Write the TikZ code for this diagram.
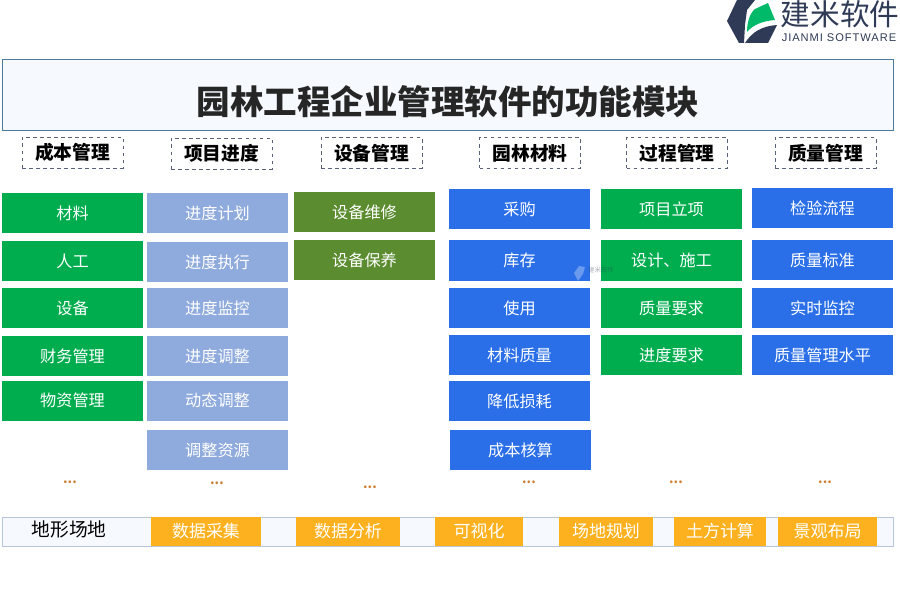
\documentclass[tikz,border=0pt]{standalone}
\usepackage{fontspec}
\setmainfont{Noto Sans CJK SC}
\newfontfamily\latinfont[LetterSpace=8.4]{Liberation Sans}
\definecolor{cgreen}{HTML}{00AD4E}
\definecolor{cblue}{HTML}{8FAADC}
\definecolor{colive}{HTML}{5B8C2F}
\definecolor{croyal}{HTML}{2A6FE8}
\definecolor{corange}{HTML}{FDB11E}
\definecolor{cdark}{HTML}{2F3B56}
\definecolor{cpale}{HTML}{F6FAFF}
\definecolor{cframe}{HTML}{4F7A9C}
\definecolor{cbar}{HTML}{B8C4D8}
\newcommand{\pxfont}[1]{\fontsize{#1}{#1}\selectfont}
\tikzset{
  x=0.03cm,y=-0.03cm,
  cell/.style={minimum width=4.23cm,minimum height=1.2cm,inner sep=0pt,text=white,font=\pxfont{13.8}},
  head/.style={draw=cdark!80,dashed,line width=0.5pt,minimum width=3.03cm,minimum height=0.92cm,inner sep=0pt,font=\pxfont{16}\bfseries},
  tag/.style={fill=corange,minimum height=0.87cm,inner sep=0pt,text=white,font=\pxfont{14.5}},
  more/.style={text=brown!80!orange,inner sep=0pt,font=\pxfont{11}\bfseries},
}
\begin{document}
\begin{tikzpicture}
\useasboundingbox (0,0) rectangle (900,600);
% logo
\fill[cdark] (737,0) -- (755,0) -- (747,10) -- (745,25) -- (744,43) -- (739,43) -- (727,21) -- cycle;
\fill[cdark] (745,43) -- (768,43) -- (777,25) .. controls (762,26) and (752,32) .. (745,43);
\fill[cgreen!85!cyan] (747,32) .. controls (747,22) and (750,13) .. (755,9) -- (768,3) -- (775,20) .. controls (762,21) and (753,25) .. (747,32);
\node[text=cdark,inner sep=0pt,font=\pxfont{25.3}] (brand) at (840,14) {建米软件};
\node[text=cdark,inner sep=0pt,font=\latinfont\pxfont{9.5}] (brandsub) at (839,38) {JIANMI SOFTWARE};
% title
\node[draw=cframe,fill=cpale,line width=0.6pt,minimum width=26.73cm,minimum height=2.13cm,inner sep=0pt] (titlebox) at (447.5,94.5) {};
\node[text=black!85,inner sep=0pt,font=\pxfont{28.6}\bfseries] (title) at (448,102) {园林工程企业管理软件的功能模块};
% column heads
\node[head] (cost) at (72.5,152.5) {成本管理};
\node[head] (plan) at (221.5,153.5) {项目进度};
\node[head] (equip) at (371.5,153) {设备管理};
\node[head] (material) at (530,153) {园林材料};
\node[head] (process) at (677,153) {过程管理};
\node[head] (quality) at (825.5,153) {质量管理};
% first column
\foreach \y/\name/\txt in {213/a1/材料,261/a2/人工,308/a3/设备,356/a4/财务管理,400.5/a5/物资管理}
  \node[cell,fill=cgreen] (\name) at (72.5,\y) {\txt};
% second column
\foreach \y/\name/\txt in {213/b1/进度计划,262/b2/进度执行,308/b3/进度监控,356/b4/进度调整,400.5/b5/动态调整,450/b6/调整资源}
  \node[cell,fill=cblue] (\name) at (217.5,\y) {\txt};
% third column
\foreach \y/\name/\txt in {212/c1/设备维修,260/c2/设备保养}
  \node[cell,fill=colive] (\name) at (364.5,\y) {\txt};
% fourth column
\foreach \y/\name/\txt in {209/d1/采购,260.5/d2/库存,308/d3/使用,355/d4/材料质量,401/d5/降低损耗}
  \node[cell,fill=croyal] (\name) at (519.5,\y) {\txt};
\node[cell,fill=croyal] (d6) at (520.5,450) {成本核算};
% fifth column
\foreach \y/\name/\txt in {209/e1/项目立项,260.5/e2/设计、施工,308/e3/质量要求,355/e4/进度要求}
  \node[cell,fill=cgreen] (\name) at (671.5,\y) {\txt};
% sixth column
\foreach \y/\name/\txt in {208/f1/检验流程,260/f2/质量标准,308/f3/实时监控,355/f4/质量管理水平}
  \node[cell,fill=croyal] (\name) at (822.5,\y) {\txt};
% watermark
\node[text=cdark,opacity=0.4,inner sep=0pt,font=\pxfont{5.5}] (mark) at (601,270) {建米软件};
\fill[white,opacity=0.3] (574,273) -- (579,266) -- (585,267) -- (583,274) -- (578,281) -- cycle;
% dots
\foreach \x/\y/\name in {70/482/m1,217/483/m2,370/487/m3,529/482/m4,676/482/m5,825/482/m6}
  \node[more] (\name) at (\x,\y) {...};
% bottom bar
\node[draw=cbar,fill=cpale,line width=0.6pt,minimum width=26.73cm,minimum height=0.87cm,inner sep=0pt] (bar) at (447.5,531.5) {};
\node[inner sep=0pt,font=\pxfont{16}] (site) at (69,529) {地形场地};
\node[tag,minimum width=3.3cm] (t1) at (206,531.5) {数据采集};
\node[tag,minimum width=3.12cm] (t2) at (348,531.5) {数据分析};
\node[tag,minimum width=2.64cm] (t3) at (479,531.5) {可视化};
\node[tag,minimum width=2.82cm] (t4) at (606,531.5) {场地规划};
\node[tag,minimum width=2.76cm] (t5) at (720,531.5) {土方计算};
\node[tag,minimum width=2.97cm] (t6) at (827.5,531.5) {景观布局};
\end{tikzpicture}
\end{document}
